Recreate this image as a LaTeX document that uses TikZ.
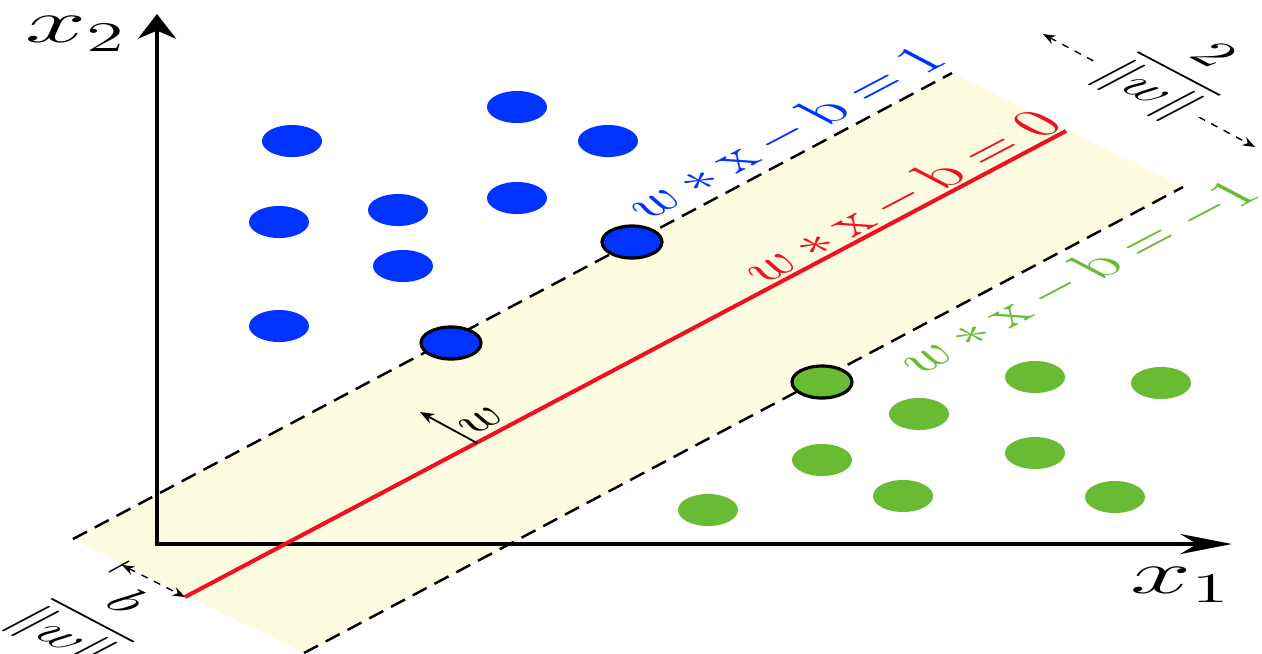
\documentclass[tikz,border=0pt]{standalone}
\usepackage{amsmath}
\usetikzlibrary{arrows.meta}
\usetikzlibrary{shapes.geometric}

\definecolor{svmblue}{RGB}{0,51,255}
\definecolor{svmgreen}{RGB}{106,187,52}
\definecolor{svmred}{RGB}{238,17,34}
\definecolor{svmband}{RGB}{253,251,224}

\begin{document}
\begin{tikzpicture}[x=0.01cm, y=-0.01cm,
  bluept/.style={ellipse, fill=svmblue, minimum width=6mm, minimum height=3.2mm, inner sep=0pt},
  greenpt/.style={ellipse, fill=svmgreen, minimum width=6mm, minimum height=3.2mm, inner sep=0pt},
  sv/.style={draw=black, line width=0.9pt},
  marginline/.style={line width=0.7pt, dash pattern=on 4.5pt off 2.5pt},
  dimline/.style={line width=0.4pt, dash pattern=on 2pt off 2pt},
  planetext/.style={xscale=1.9, rotate=45, inner sep=0pt, font=\fontsize{11}{13}\selectfont},
  dimtext/.style={xscale=1.9, rotate=-45, inner sep=1pt, font=\fontsize{10}{12}\selectfont},
  axislabel/.style={xscale=1.8, inner sep=0pt, font=\fontsize{17}{20}\selectfont}]

\useasboundingbox (0,0) rectangle (1262,653);
\fill[white] (0,0) rectangle (1262,653);

% margin band
\coordinate (ul) at (73,539);
\coordinate (ur) at (952,73);
\coordinate (lr) at (1183,187);
\coordinate (ll) at (304,653);
\fill[svmband] (ul) -- (ur) -- (lr) -- (ll) -- cycle;

% axes
\coordinate (o) at (157,544);
\coordinate (xend) at (1232,544);
\coordinate (yend) at (157,14);
\draw[line width=1.3pt, line join=miter,
  {Stealth[length=7pt, width=10.8pt]}-{Stealth[length=14.7pt, width=5.7pt]}] (yend) -- (o) -- (xend);
\node[axislabel] (xone) at (1181,585) {$x_1$};
\node[axislabel] (xtwo) at (76,34) {$x_2$};

% hyperplane and margins
\coordinate (rl) at (185,597);
\coordinate (rr) at (1066,131);
\draw[svmred, line width=1.15pt] (rl) -- (rr);
\draw[marginline] (ul) -- (ur);
\draw[marginline] (ll) -- (lr);

% normal vector
\coordinate (wfoot) at (477,443);
\coordinate (wtip) at (420,412);
\draw[line width=0.5pt, -{Stealth[length=4pt, width=3pt]}] (wfoot) -- (wtip);
\node[planetext, font=\fontsize{10}{12}\selectfont] (wlab) at (482,421) {$w$};

% distances
\coordinate (mtop) at (1043,34);
\coordinate (mbot) at (1255,147);
\draw[dimline, {Stealth[length=3.5pt, width=2.6pt]}-{Stealth[length=3.5pt, width=2.6pt]}] (mtop) -- (mbot);
\node[dimtext, fill=white] (mlab) at (1176,75) {$\dfrac{2}{\|w\|}$};

\coordinate (btail) at (122,565);
\coordinate (tickA) at (109,572);
\coordinate (tickB) at (129,561);
\draw[line width=0.4pt] (tickA) -- (tickB);
\draw[dimline, {Stealth[length=3.5pt, width=2.6pt]}-{Stealth[length=3.5pt, width=2.6pt]}] (btail) -- (rl);
\node[dimtext] (blab) at (91,621) {$\dfrac{b}{\|w\|}$};

% class +1
\node[bluept] (b1) at (292,141) {};
\node[bluept] (b2) at (517,107) {};
\node[bluept] (b3) at (608,141) {};
\node[bluept] (b4) at (279,222) {};
\node[bluept] (b5) at (398,210) {};
\node[bluept] (b6) at (517,198) {};
\node[bluept] (b7) at (403,266) {};
\node[bluept] (b8) at (279,326) {};
\node[bluept, sv] (bs1) at (451,343) {};
\node[bluept, sv] (bs2) at (632,242) {};

% class -1
\node[greenpt, sv] (gs1) at (822,382) {};
\node[greenpt] (g1) at (1035,377) {};
\node[greenpt] (g2) at (1161,383) {};
\node[greenpt] (g3) at (919,414) {};
\node[greenpt] (g4) at (1035,453) {};
\node[greenpt] (g5) at (822,460) {};
\node[greenpt] (g6) at (903,496) {};
\node[greenpt] (g7) at (1115,497) {};
\node[greenpt] (g8) at (708,510) {};

% plane labels
\node[planetext, text=svmblue] (lplus) at (784,133) {$w*\mathrm{x}-\mathrm{b}=1$};
\node[planetext, text=svmred] (lzero) at (900,197) {$w*\mathrm{x}-\mathrm{b}=0$};
\node[planetext, text=svmgreen] (lminus) at (1077,277) {$w*\mathrm{x}-\mathrm{b}=-1$};

\end{tikzpicture}
\end{document}
